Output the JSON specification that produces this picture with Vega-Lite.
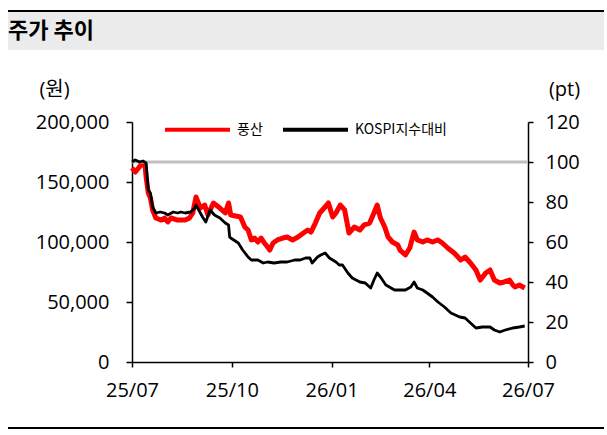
{
  "$schema": "https://vega.github.io/schema/vega-lite/v6.json",
  "padding": {"left": 8, "top": 10, "right": 3, "bottom": 5},
  "columns": 1,
  "align": "none",
  "spacing": 29,
  "resolve": {"scale": {"color": "independent"}, "legend": {"color": "independent"}},
  "config": {"view": {"stroke": null}, "font": "Open Sans, Noto Sans CJK KR"},
  "datasets": {
    "price": [
      {"date": "2025-07-01", "price": 161700}, {"date": "2025-07-04", "price": 158300}, {"date": "2025-07-07", "price": 161700},
      {"date": "2025-07-09", "price": 164200}, {"date": "2025-07-13", "price": 164200}, {"date": "2025-07-14", "price": 154200},
      {"date": "2025-07-16", "price": 140800}, {"date": "2025-07-18", "price": 136700}, {"date": "2025-07-20", "price": 126700},
      {"date": "2025-07-23", "price": 120000}, {"date": "2025-07-28", "price": 118300}, {"date": "2025-07-31", "price": 120000},
      {"date": "2025-08-03", "price": 116700}, {"date": "2025-08-06", "price": 120000}, {"date": "2025-08-12", "price": 118300},
      {"date": "2025-08-19", "price": 118300}, {"date": "2025-08-23", "price": 120000}, {"date": "2025-08-26", "price": 124200},
      {"date": "2025-08-29", "price": 137500}, {"date": "2025-09-02", "price": 128300}, {"date": "2025-09-06", "price": 130800},
      {"date": "2025-09-09", "price": 122500}, {"date": "2025-09-14", "price": 132500}, {"date": "2025-09-20", "price": 128300},
      {"date": "2025-09-25", "price": 124200}, {"date": "2025-09-28", "price": 132500}, {"date": "2025-09-30", "price": 122500},
      {"date": "2025-10-09", "price": 120800}, {"date": "2025-10-13", "price": 112500}, {"date": "2025-10-16", "price": 110000},
      {"date": "2025-10-19", "price": 101700}, {"date": "2025-10-22", "price": 103300}, {"date": "2025-10-25", "price": 100000},
      {"date": "2025-10-28", "price": 103300}, {"date": "2025-10-31", "price": 99200}, {"date": "2025-11-03", "price": 95800},
      {"date": "2025-11-05", "price": 93300}, {"date": "2025-11-08", "price": 99200}, {"date": "2025-11-12", "price": 101700},
      {"date": "2025-11-17", "price": 103300}, {"date": "2025-11-21", "price": 104200}, {"date": "2025-11-26", "price": 101700},
      {"date": "2025-12-01", "price": 104200}, {"date": "2025-12-06", "price": 107500}, {"date": "2025-12-10", "price": 110000},
      {"date": "2025-12-13", "price": 108300}, {"date": "2025-12-17", "price": 115800}, {"date": "2025-12-21", "price": 124200},
      {"date": "2025-12-26", "price": 129200}, {"date": "2025-12-29", "price": 132500}, {"date": "2026-01-02", "price": 120800},
      {"date": "2026-01-05", "price": 124200}, {"date": "2026-01-09", "price": 130800}, {"date": "2026-01-13", "price": 126700},
      {"date": "2026-01-17", "price": 107500}, {"date": "2026-01-22", "price": 112500}, {"date": "2026-01-27", "price": 110000},
      {"date": "2026-01-31", "price": 114200}, {"date": "2026-02-05", "price": 115800}, {"date": "2026-02-09", "price": 124200},
      {"date": "2026-02-12", "price": 130800}, {"date": "2026-02-15", "price": 120000}, {"date": "2026-02-19", "price": 112500},
      {"date": "2026-02-22", "price": 104200}, {"date": "2026-02-26", "price": 100000}, {"date": "2026-03-03", "price": 97500},
      {"date": "2026-03-05", "price": 93300}, {"date": "2026-03-10", "price": 89200}, {"date": "2026-03-14", "price": 95000},
      {"date": "2026-03-18", "price": 108300}, {"date": "2026-03-21", "price": 101700}, {"date": "2026-03-26", "price": 100000},
      {"date": "2026-03-30", "price": 101700}, {"date": "2026-04-04", "price": 100000}, {"date": "2026-04-09", "price": 101700},
      {"date": "2026-04-13", "price": 99200}, {"date": "2026-04-18", "price": 95000}, {"date": "2026-04-24", "price": 90800},
      {"date": "2026-04-30", "price": 85000}, {"date": "2026-05-04", "price": 87500}, {"date": "2026-05-09", "price": 82500},
      {"date": "2026-05-14", "price": 76700}, {"date": "2026-05-18", "price": 68300}, {"date": "2026-05-23", "price": 74200},
      {"date": "2026-05-27", "price": 76700}, {"date": "2026-05-31", "price": 68300}, {"date": "2026-06-05", "price": 65800},
      {"date": "2026-06-09", "price": 66700}, {"date": "2026-06-14", "price": 68300}, {"date": "2026-06-17", "price": 64200},
      {"date": "2026-06-19", "price": 62500}, {"date": "2026-06-23", "price": 64200}, {"date": "2026-06-28", "price": 61700}
    ],
    "kospi": [
      {"date": "2025-07-01", "rel": 100}, {"date": "2025-07-04", "rel": 101}, {"date": "2025-07-08", "rel": 100},
      {"date": "2025-07-11", "rel": 100.5}, {"date": "2025-07-14", "rel": 99.5}, {"date": "2025-07-16", "rel": 86},
      {"date": "2025-07-18", "rel": 84.5}, {"date": "2025-07-20", "rel": 77.5}, {"date": "2025-07-23", "rel": 74.5},
      {"date": "2025-07-27", "rel": 75}, {"date": "2025-07-31", "rel": 74.5}, {"date": "2025-08-03", "rel": 73.5},
      {"date": "2025-08-08", "rel": 75}, {"date": "2025-08-12", "rel": 74.5}, {"date": "2025-08-15", "rel": 75},
      {"date": "2025-08-19", "rel": 74.5}, {"date": "2025-08-24", "rel": 75}, {"date": "2025-08-28", "rel": 77},
      {"date": "2025-08-29", "rel": 78.5}, {"date": "2025-09-02", "rel": 74.5}, {"date": "2025-09-04", "rel": 72.5},
      {"date": "2025-09-07", "rel": 70}, {"date": "2025-09-11", "rel": 76}, {"date": "2025-09-15", "rel": 73.5},
      {"date": "2025-09-20", "rel": 72}, {"date": "2025-09-25", "rel": 69.5}, {"date": "2025-09-28", "rel": 68.5},
      {"date": "2025-09-29", "rel": 62.5}, {"date": "2025-09-30", "rel": 62}, {"date": "2025-10-07", "rel": 59.5},
      {"date": "2025-10-11", "rel": 56}, {"date": "2025-10-16", "rel": 52.5}, {"date": "2025-10-19", "rel": 51},
      {"date": "2025-10-25", "rel": 51}, {"date": "2025-10-30", "rel": 49.5}, {"date": "2025-11-03", "rel": 50},
      {"date": "2025-11-09", "rel": 49.5}, {"date": "2025-11-15", "rel": 50}, {"date": "2025-11-21", "rel": 50},
      {"date": "2025-11-28", "rel": 51}, {"date": "2025-12-03", "rel": 51}, {"date": "2025-12-08", "rel": 52},
      {"date": "2025-12-12", "rel": 52}, {"date": "2025-12-14", "rel": 49.5}, {"date": "2025-12-19", "rel": 52.5},
      {"date": "2025-12-22", "rel": 53.5}, {"date": "2025-12-26", "rel": 54.5}, {"date": "2025-12-30", "rel": 52},
      {"date": "2026-01-02", "rel": 51}, {"date": "2026-01-05", "rel": 50}, {"date": "2026-01-08", "rel": 48.5},
      {"date": "2026-01-11", "rel": 48.5}, {"date": "2026-01-16", "rel": 44.5}, {"date": "2026-01-20", "rel": 42},
      {"date": "2026-01-27", "rel": 40}, {"date": "2026-02-01", "rel": 39.5}, {"date": "2026-02-06", "rel": 37},
      {"date": "2026-02-09", "rel": 41}, {"date": "2026-02-12", "rel": 44.5}, {"date": "2026-02-15", "rel": 42.5},
      {"date": "2026-02-20", "rel": 38.5}, {"date": "2026-02-28", "rel": 36}, {"date": "2026-03-04", "rel": 36},
      {"date": "2026-03-10", "rel": 36}, {"date": "2026-03-15", "rel": 37.5}, {"date": "2026-03-18", "rel": 40},
      {"date": "2026-03-21", "rel": 37}, {"date": "2026-03-26", "rel": 36}, {"date": "2026-03-30", "rel": 34.5},
      {"date": "2026-04-04", "rel": 32.5}, {"date": "2026-04-09", "rel": 30}, {"date": "2026-04-15", "rel": 27.5},
      {"date": "2026-04-21", "rel": 24.5}, {"date": "2026-04-29", "rel": 22.5}, {"date": "2026-05-04", "rel": 22},
      {"date": "2026-05-09", "rel": 19.5}, {"date": "2026-05-14", "rel": 17}, {"date": "2026-05-20", "rel": 17.5},
      {"date": "2026-05-27", "rel": 17.5}, {"date": "2026-05-31", "rel": 16}, {"date": "2026-06-05", "rel": 15},
      {"date": "2026-06-10", "rel": 16}, {"date": "2026-06-17", "rel": 17}, {"date": "2026-06-23", "rel": 17.5},
      {"date": "2026-06-28", "rel": 18}
    ],
    "ref": [{"ref": 100}],
    "header": [{"label": "주가 추이"}]
  },
  "concat": [
    {
      "spacing": 0,
      "vconcat": [
        {"width": 596, "height": 2, "view": {"fill": "#000000", "stroke": null}, "data": {"values": []}, "mark": "point"},
        {
          "width": 596, "height": 38,
          "view": {"fill": "#ebebeb", "stroke": null},
          "data": {"name": "header"},
          "mark": {"type": "text", "align": "left", "baseline": "middle", "fontSize": 22, "fontWeight": "bold", "font": "Noto Sans CJK KR", "color": "#000000"},
          "encoding": {
            "text": {"field": "label", "type": "nominal"},
            "x": {"field": "label", "type": "nominal", "scale": {"type": "point", "padding": 0, "align": 0}, "axis": null}
          }
        }
      ]
    },
    {
      "spacing": 27,
      "resolve": {"scale": {"color": "independent"}, "legend": {"color": "independent"}},
      "vconcat": [
        {
          "spacing": 0,
          "resolve": {"scale": {"color": "independent"}, "legend": {"color": "independent"}},
          "hconcat": [
            {"width": 1, "height": 1, "data": {"values": []}, "mark": "point"},
            {
              "width": 396,
              "height": 240,
              "layer": [
                {
                  "data": {"name": "price"},
                  "mark": {"type": "line", "strokeWidth": 5, "strokeJoin": "round"},
                  "encoding": {
                    "x": {
                      "field": "date", "type": "temporal",
                      "scale": {"type": "utc", "domain": [{"year": 2025, "month": 7, "date": 1, "utc": true}, {"year": 2026, "month": 7, "date": 1, "utc": true}]},
                      "axis": {
                        "values": [
                          {"year": 2025, "month": 7, "date": 1, "utc": true},
                          {"year": 2025, "month": 10, "date": 1, "utc": true},
                          {"year": 2026, "month": 1, "date": 1, "utc": true},
                          {"year": 2026, "month": 4, "date": 1, "utc": true},
                          {"year": 2026, "month": 7, "date": 1, "utc": true}
                        ],
                        "format": "%y/%m", "title": null, "grid": false,
                        "labelFontSize": 20, "labelColor": "#000000", "labelPadding": 13, "labelFlush": false, "labelOverlap": false,
                        "tickSize": 5, "tickWidth": 1.5, "tickColor": "#000000",
                        "domainColor": "#000000", "domainWidth": 1.5
                      }
                    },
                    "y": {
                      "field": "price", "type": "quantitative",
                      "scale": {"domain": [0, 200000]},
                      "axis": {
                        "orient": "left", "values": [0, 50000, 100000, 150000, 200000], "format": ",.0f", "grid": false,
                        "title": "(원)", "titleAngle": 0, "titleX": -78, "titleY": -33, "titleAlign": "center", "titleBaseline": "middle",
                        "titleFontSize": 20, "titleFontWeight": "normal", "titleColor": "#000000",
                        "labelFontSize": 20, "labelColor": "#000000", "labelPadding": 17,
                        "tickSize": 6, "tickWidth": 1.5, "tickColor": "#000000",
                        "domainColor": "#000000", "domainWidth": 1.5, "minExtent": 123
                      }
                    },
                    "color": {
                      "datum": "풍산", "type": "nominal",
                      "scale": {"domain": ["풍산", "KOSPI지수대비"], "range": ["#ff0000", "#000000"]},
                      "legend": {
                        "orient": "none", "legendX": 31, "legendY": -27, "direction": "horizontal", "title": null,
                        "symbolType": "stroke", "symbolSize": 4225, "symbolStrokeWidth": 4,
                        "labelFont": "Noto Sans CJK KR", "labelFontSize": 14, "labelColor": "#000000", "labelOffset": 5, "columnPadding": 12, "padding": 0
                      }
                    }
                  }
                },
                {
                  "layer": [
                    {
                      "data": {"name": "ref"},
                      "mark": {"type": "rule", "color": "#bfbfbf", "strokeWidth": 3},
                      "encoding": {
                        "y": {
                          "field": "ref", "type": "quantitative", "scale": {"domain": [0, 120]},
                          "axis": {
                            "orient": "right", "values": [0, 20, 40, 60, 80, 100, 120], "grid": false,
                            "title": "(pt)", "titleAngle": 0, "titleX": 36, "titleY": -33, "titleAlign": "center", "titleBaseline": "middle",
                            "titleFontSize": 20, "titleFontWeight": "normal", "titleColor": "#000000",
                            "labelFontSize": 20, "labelColor": "#000000", "labelPadding": 12,
                            "tickSize": 5, "tickWidth": 1.5, "tickColor": "#000000",
                            "domainColor": "#000000", "domainWidth": 1.5
                          }
                        }
                      }
                    },
                    {
                      "data": {"name": "kospi"},
                      "mark": {"type": "line", "strokeWidth": 2.8, "strokeJoin": "round"},
                      "encoding": {
                        "x": {"field": "date", "type": "temporal"},
                        "y": {
                          "field": "rel", "type": "quantitative", "scale": {"domain": [0, 120]},
                          "axis": {
                            "orient": "right", "values": [0, 20, 40, 60, 80, 100, 120], "grid": false,
                            "title": "(pt)", "titleAngle": 0, "titleX": 36, "titleY": -33, "titleAlign": "center", "titleBaseline": "middle",
                            "titleFontSize": 20, "titleFontWeight": "normal", "titleColor": "#000000",
                            "labelFontSize": 20, "labelColor": "#000000", "labelPadding": 12,
                            "tickSize": 5, "tickWidth": 1.5, "tickColor": "#000000",
                            "domainColor": "#000000", "domainWidth": 1.5
                          }
                        },
                        "color": {"datum": "KOSPI지수대비", "type": "nominal"}
                      }
                    }
                  ]
                }
              ],
              "resolve": {"scale": {"y": "independent"}}
            }
          ]
        },
        {"width": 596, "height": 2, "view": {"fill": "#000000", "stroke": null}, "data": {"values": []}, "mark": "point"}
      ]
    }
  ]
}
